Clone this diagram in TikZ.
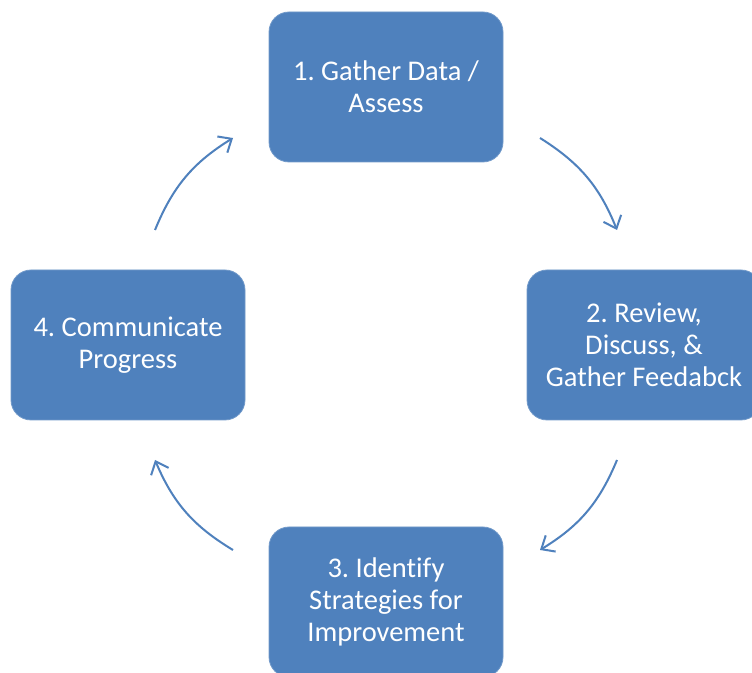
\documentclass[tikz,border=0pt]{standalone}
\usepackage{fontspec}
\setmainfont{Carlito}[Ligatures=NoCommon]
\usetikzlibrary{arrows.meta,positioning}
\definecolor{stepblue}{HTML}{4F81BD}
\frenchspacing
\tikzset{
  stage/.style  = {draw=stepblue!80!white, fill=stepblue, rounded corners=20pt,
                   minimum width=234pt, minimum height=150pt, text=white,
                   align=center, font=\fontsize{28.5}{32}\selectfont, line width=0.8pt},
  flow/.style   = {draw=stepblue, line width=2pt,
                   -{Straight Barb[length=11pt,width=19pt,line width=2pt]}}
}
\begin{document}
\begin{tikzpicture}[x=1pt,y=1pt]

\clip (0,0) rectangle (752,672);
\fill[white] (0,0) rectangle (752,672);

\node[stage] at (386,585) (Gather) {1. Gather Data /\\Assess};
\node[stage] at (644,327) (Review) {2. Review,\\Discuss, \&\\Gather Feedabck};
\node[stage] at (386,70)  (Identify) {3. Identify\\Strategies for\\Improvement};
\node[stage] at (128,327) (Communicate) {4. Communicate\\Progress};

% free arrow ends between the stages
\coordinate (g out) at (540,534);
\coordinate (r in)  at (617,442);
\coordinate (r out) at (617,212);
\coordinate (i in)  at (540,122);
\coordinate (i out) at (233,122);
\coordinate (c in)  at (155,212);
\coordinate (c out) at (155,442);
\coordinate (g in)  at (233,534);

\draw[flow] (g out) to[bend left=18] (r in);
\draw[flow] (r out) to[bend left=18] (i in);
\draw[flow] (i out) to[bend left=18] (c in);
\draw[flow] (c out) to[bend left=18] (g in);

\end{tikzpicture}
\end{document}
